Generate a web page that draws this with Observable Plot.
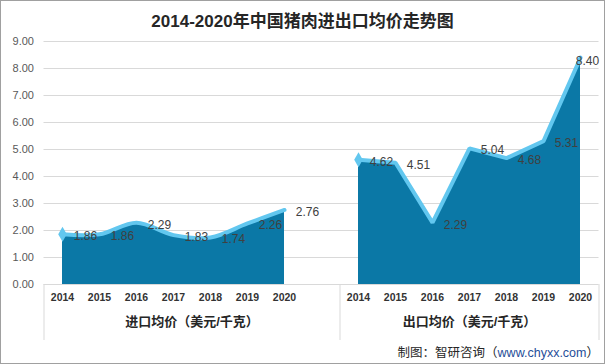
<!DOCTYPE html>
<html><head><meta charset="utf-8">
<script src="https://cdn.jsdelivr.net/npm/d3@7"></script>
<script src="https://cdn.jsdelivr.net/npm/@observablehq/plot@0.6"></script>
<style>
body{margin:0;background:#fff;}
#wrap{position:relative;width:605px;height:364px;overflow:hidden;background:#fff;font-family:"Liberation Sans","Noto Sans CJK SC",sans-serif;}
#title{position:absolute;left:0;top:8px;width:605px;text-align:center;font-size:17px;font-weight:bold;color:#262626;line-height:28px;font-family:"Liberation Sans","Noto Sans CJK SC",sans-serif;}
#chart{position:absolute;left:0;top:30px;}
#caption{position:absolute;right:6px;top:343px;font-size:12.5px;line-height:18px;color:#262626;font-family:"Noto Sans CJK SC",sans-serif;}
#caption span{color:#1f4e99;font-family:"Liberation Sans",sans-serif;}
#border{position:absolute;left:0;top:0;width:603px;height:362px;border:1px solid #a0a0a0;pointer-events:none;}
</style></head>
<body>
<div id="wrap">
  <div id="title">2014-2020年中国猪肉进出口均价走势图</div>
  <div id="chart"></div>
  <div id="caption">制图：智研咨询（<span>www.chyxx.com</span>）</div>
  <div id="border"></div>
</div>
<script>
const years = ["2014","2015","2016","2017","2018","2019","2020"];
const importPrice = [1.86,1.86,2.29,1.83,1.74,2.26,2.76];
const exportPrice = [4.62,4.51,2.29,5.04,4.68,5.31,8.40];
const groupNames = ["进口均价（美元/千克）","出口均价（美元/千克）"];
const yTicks = [0,1,2,3,4,5,6,7,8,9];

// category slots: 7 import, 1 empty slot, 7 export
const importData = years.map((yr,i)=>({pos:i, year:yr, value:importPrice[i]}));
const exportData = years.map((yr,i)=>({pos:i+8, year:yr, value:exportPrice[i]}));
const allData = importData.concat(exportData);
const labelOf = new Map(allData.map(d=>[d.pos,d.year]));
const groups = [
  {name:groupNames[0], start:-0.5, end:7.5},
  {name:groupNames[1], start:7.5, end:14.5}
];
const bounds = [-0.5, 7.5, 14.5];

const areaFill = "#0b78a6";
const lineStroke = "#62c7ef";
const lastPos = exportData[exportData.length-1].pos;

const chart = Plot.plot({
  width:605, height:310,
  marginLeft:43.5, marginRight:6.5, marginTop:11, marginBottom:56,
  style:{fontFamily:"'Liberation Sans','Noto Sans CJK SC',sans-serif", background:"transparent"},
  x:{domain:[-0.5,14.5], axis:null, label:null},
  y:{domain:[0,9], axis:null, label:null},
  marks:[
    Plot.ruleY(yTicks.slice(1), {stroke:"#d9d9d9", strokeWidth:1}),
    Plot.areaY(importData, {x:"pos", y:"value", fill:areaFill, curve:"catmull-rom"}),
    Plot.areaY(exportData, {x:"pos", y:"value", fill:areaFill}),
    Plot.lineY(importData, {x:"pos", y:"value", stroke:lineStroke, strokeWidth:4, curve:"catmull-rom"}),
    Plot.lineY(exportData, {x:"pos", y:"value", stroke:lineStroke, strokeWidth:4, strokeLinejoin:"miter"}),
    Plot.dot([importData[0], exportData[0]], {x:"pos", y:"value", symbol:"diamond", r:4.5, fill:lineStroke, stroke:"none"}),
    Plot.ruleY([0], {stroke:"#d9d9d9"}),
    Plot.ruleX(bounds, {y1:0, y2:-2.1, stroke:"#d9d9d9"}),
    Plot.axisY(yTicks, {label:null, tickSize:0, tickPadding:10, tickFormat:d=>d.toFixed(2), fontSize:11, fill:"#595959"}),
    Plot.axisX(allData.map(d=>d.pos), {label:null, tickSize:0, tickPadding:9, tickFormat:d=>labelOf.get(d), fontSize:10.5, fontWeight:"bold", fill:"#333"}),
    Plot.text(groups, {x:d=>(d.start+d.end)/2, text:"name", frameAnchor:"bottom", dy:41, fontSize:13, fontWeight:"bold", fill:"#262626"}),
    Plot.text(allData.filter(d=>d.pos!==lastPos), {x:"pos", y:"value", text:d=>d.value.toFixed(2), dx:23, dy:2, fontSize:12, fill:"#404040"}),
    Plot.text(allData.filter(d=>d.pos===lastPos), {x:"pos", y:"value", text:d=>d.value.toFixed(2), dx:7, dy:3, fontSize:12, fill:"#404040"})
  ]
});
document.getElementById("chart").appendChild(chart);
</script>
</body></html>
